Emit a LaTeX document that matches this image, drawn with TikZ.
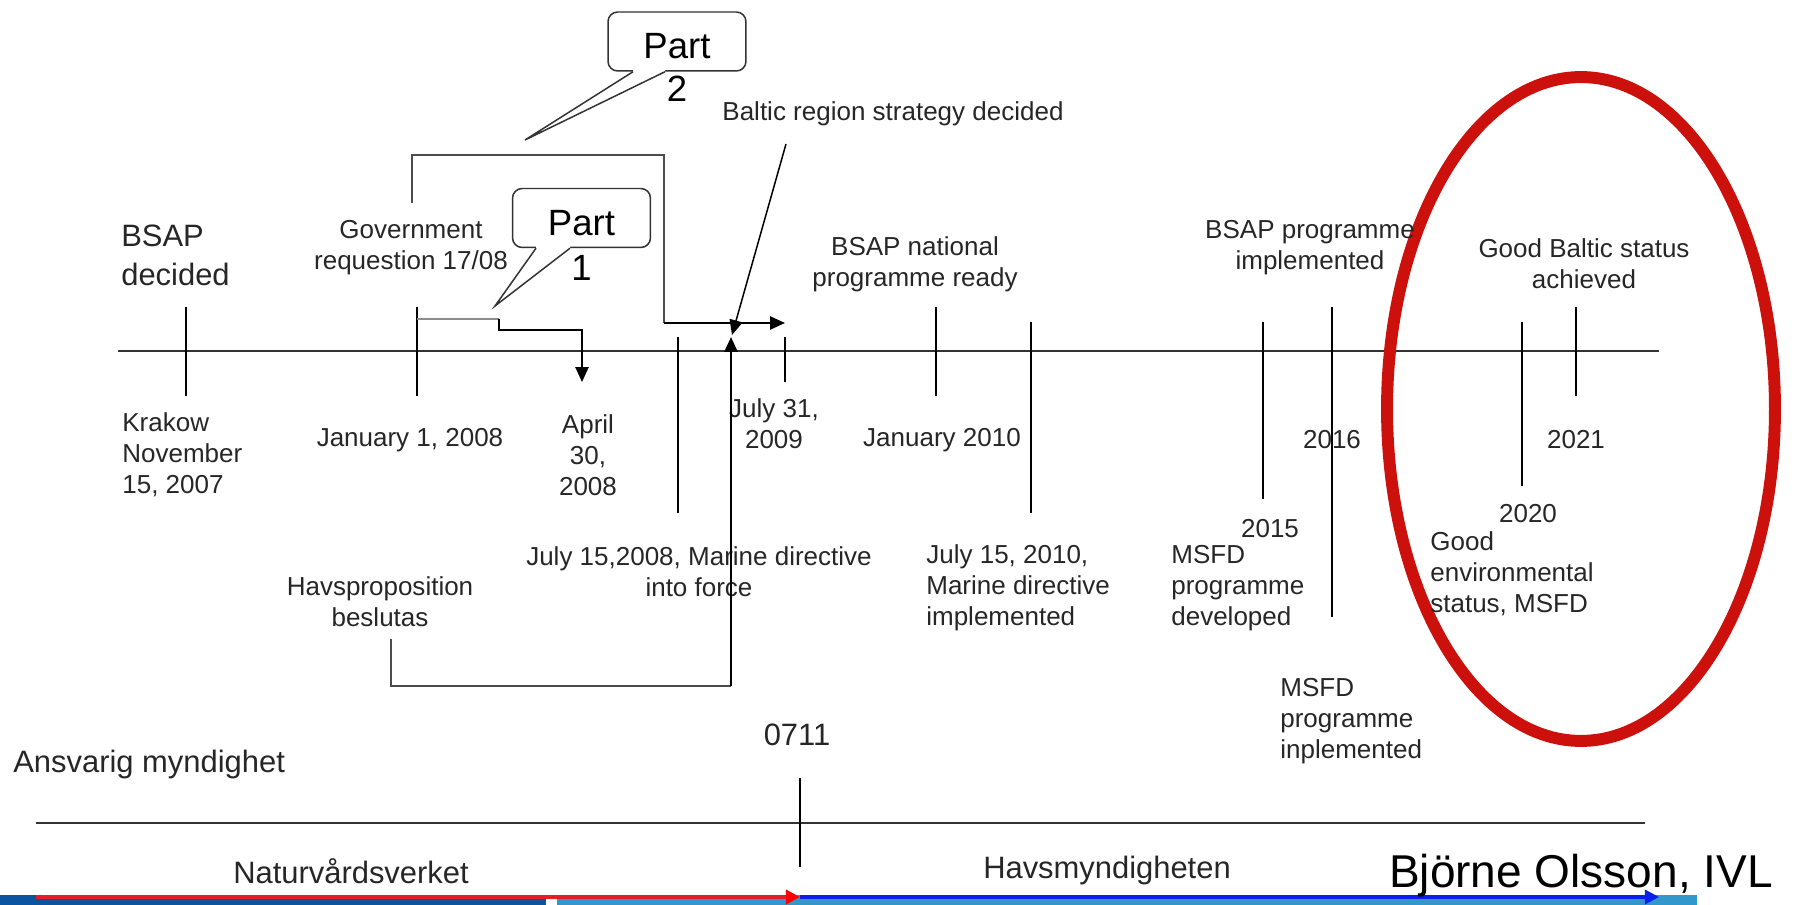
\documentclass[tikz,border=0pt]{standalone}
\usepackage{fontspec}
\setmainfont{Liberation Sans}
\usetikzlibrary{arrows.meta, calc}

\definecolor{ellred}{RGB}{204,16,12}
\definecolor{darkstrip}{RGB}{12,84,160}
\definecolor{lightstrip}{RGB}{50,152,204}
\definecolor{redline}{RGB}{228,30,40}
\definecolor{blueline}{RGB}{10,30,240}

\begin{document}
\begin{tikzpicture}[
    x=0.02cm, y=-0.02cm,
    txt/.style={font=\fontsize{14.8}{17.6}\selectfont, text=black!85, inner sep=0pt, align=center, yshift=-1.7pt},
    txtl/.style={txt, align=left},
    big/.style={font=\fontsize{17.6}{22.2}\selectfont, text=black!85, inner sep=0pt, align=center, yshift=-1.7pt},
    callbox/.style={rectangle, draw=black!80, line width=0.85pt, rounded corners=5.5pt, fill=white, minimum width=2.76cm, minimum height=1.18cm, inner sep=0pt, text height=19.9pt, font=\fontsize{20.8}{24}\selectfont},
    numlbl/.style={font=\fontsize{20.8}{24}\selectfont, inner sep=0pt},
    tick/.style={line width=0.85pt},
    axis/.style={line width=1.3pt, black!80},
    arrow/.style={-{Triangle[length=8.5pt, width=7.5pt]}, line width=1.1pt},
    bracket/.style={line width=1.1pt, black!70}
]
\useasboundingbox (0,0) rectangle (1800,905);

% Timeline
\draw[axis] (118,351) -- (1659,351);
\foreach \x/\ya/\yb in {186/307/396, 417/307/396, 678/337/513, 785/337/382, 936/307/396,
    1031/322/513, 1263/322/499, 1332/307/617, 1522/322/486, 1576/307/396}
  \draw[tick] (\x,\ya) -- (\x,\yb);

% Responsible authority line
\draw[axis] (36,823) -- (1645,823);
\draw[tick] (800,778) -- (800,867);

% Bottom strip
\fill[darkstrip] (0,895) rectangle (546,905);
\fill[lightstrip] (557,895) rectangle (1697,905);
\coordinate (nvstart) at (36,897);
\coordinate (shift) at (800,897);
\coordinate (hmend) at (1659,897);
\draw[redline, line width=2pt, -{Triangle[length=8pt, width=8pt, color=red]}] (nvstart) -- (shift);
\draw[blueline, line width=1.8pt, -{Triangle[length=8pt, width=8pt]}] (shift) -- (hmend);

% Red ellipse
\draw[ellred, line width=6.8pt] (1581,409) ellipse [x radius=3.88cm, y radius=6.64cm];

% Upper labels
\node[big, align=left, anchor=west] (bsap) at (121,252) {BSAP\\decided};
\node[txt] (gov) at (411,245) {Government\\requestion 17/08};
\node[txt] (baltic) at (893,111) {Baltic region strategy decided};
\node[txt] (natprog) at (915,261) {BSAP national\\programme ready};
\node[txt] (bsapimpl) at (1310,245) {BSAP programme\\implemented};
\node[txt] (goodbaltic) at (1584,261) {Good Baltic status\\achieved};

% Dates
\node[txtl, anchor=west] (krakow) at (122,452) {Krakow\\November\\15, 2007};
\node[txt] (jan08) at (410,437) {January 1, 2008};
\node[txt] (apr08) at (588,452) {April\\30,\\2008};
\node[txt] (jul09) at (774,421) {July 31,\\2009};
\node[txt] (jan10) at (942,437) {January 2010};
\node[txt] (y2016) at (1332,437) {2016};
\node[txt] (y2021) at (1576,437) {2021};
\node[txt] (y2015) at (1270,526) {2015};
\node[txt] (y2020) at (1528,511) {2020};

% Lower labels
\node[txt] (jul08) at (699,569) {July 15,2008, Marine directive\\into force};
\node[txt] (havsprop) at (380,599) {Havsproposition\\beslutas};
\node[txtl, anchor=west] (jul10) at (926,585) {July 15, 2010,\\Marine directive\\implemented};
\node[txtl, anchor=west] (msfddev) at (1171,585) {MSFD\\programme\\developed};
\node[txtl, anchor=west] (msfdimpl) at (1280,718) {MSFD\\programme\\inplemented};
\node[txtl, anchor=west] (ges) at (1430,571) {Good\\environmental\\status, MSFD};

% Authorities
\node[big] (n0711) at (797,732) {0711};
\node[big, anchor=west] (ansvarig) at (13,762) {Ansvarig myndighet};
\node[big] (naturv) at (351,868) {Naturvårdsverket};
\node[big] (havsm) at (1107,868) {Havsmyndigheten};
\node[font=\fontsize{26.2}{30}\selectfont, inner sep=0pt, anchor=base] (author) at (1581,887) {Björne Olsson, IVL};

% Part 1 bracket
\coordinate (p1start) at (417,319);
\coordinate (p1step) at (499,319);
\coordinate (p1end) at (582,382);
\draw[line width=0.85pt, black!45] (p1start) -- (p1step);
\draw[arrow] (p1step) -- (499,330) -| (p1end);

% Part 2 bracket
\coordinate (p2start) at (412,203);
\coordinate (p2corner) at (664,323);
\coordinate (p2end) at (785,323);
\draw[bracket] (p2start) |- (664,155) -- (p2corner);
\draw[arrow] (p2corner) -- (p2end);

% Havsproposition bracket
\coordinate (hpstart) at (391,639);
\coordinate (hpcorner) at (731,686);
\coordinate (hpend) at (731,337);
\draw[bracket] (hpstart) |- (hpcorner);
\draw[arrow] (hpcorner) -- (hpend);

% Baltic strategy arrow
\coordinate (btend) at (732,335);
\draw[arrow, line width=0.85pt] (786,144) -- (btend);

% Callouts
\node[callbox, label={[numlbl, yshift=-2.3pt]below:2}] (part2) at (677,41.5) {Part};
\coordinate (tip2) at (525,140);
\fill[white] ($(part2.south)+(-44,-2)$) -- ($(part2.south)+(-44,0)$) -- (tip2)
  -- ($(part2.south)+(-12,0)$) -- ($(part2.south)+(-12,-2)$) -- cycle;
\draw[black!80, line width=0.85pt] ($(part2.south)+(-44,0)$) -- (tip2) -- ($(part2.south)+(-12,0)$);

\node[callbox, label={[numlbl, yshift=-4pt]below:1}] (part1) at (581.5,218) {Part};
\coordinate (tip1) at (495,306);
\fill[white] ($(part1.south)+(-45.5,-2)$) -- ($(part1.south)+(-45.5,0)$) -- (tip1)
  -- ($(part1.south)+(-11.5,0)$) -- ($(part1.south)+(-11.5,-2)$) -- cycle;
\draw[black!80, line width=0.85pt] ($(part1.south)+(-45.5,0)$) -- (tip1) -- ($(part1.south)+(-11.5,0)$);

\end{tikzpicture}
\end{document}
